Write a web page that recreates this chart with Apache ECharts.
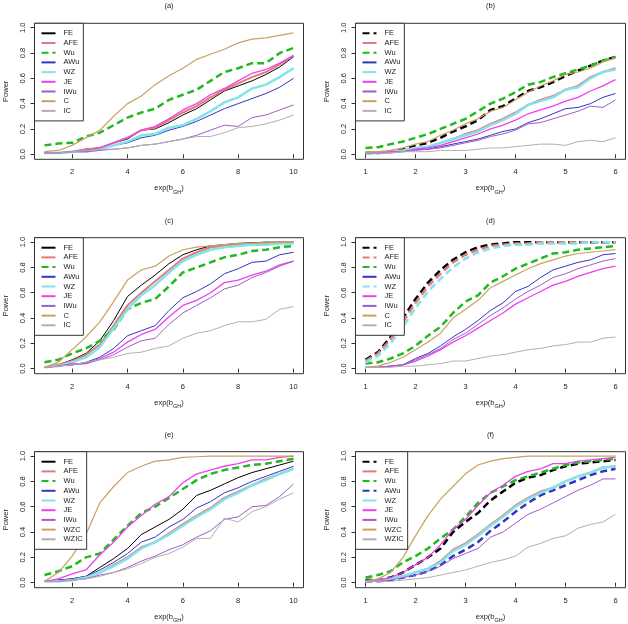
<!DOCTYPE html>
<html>
<head>
<meta charset="utf-8">
<title>Power curves</title>
<script src="https://cdn.jsdelivr.net/npm/echarts@6/dist/echarts.min.js"></script>
<style>
  html, body { margin: 0; padding: 0; background: #fff; }
  #chart { width: 628px; height: 624px; }
</style>
</head>
<body>
<div id="chart"></div>
<script>
// x values (exp(b_GH)) for the two columns of panels
const xLeft = [1, 1.5, 2, 2.5, 3, 3.5, 4, 4.5, 5, 5.5, 6, 6.5, 7, 7.5, 8, 8.5, 9, 9.5, 10];
const xRight = [1, 1.25, 1.5, 1.75, 2, 2.25, 2.5, 2.75, 3, 3.25, 3.5, 3.75, 4, 4.25, 4.5, 4.75, 5, 5.25, 5.5, 5.75, 6];

const xTicksLeft = [2, 4, 6, 8, 10];
const xTicksRight = [1, 2, 3, 4, 5, 6];
const yTicks = [0, 0.2, 0.4, 0.6, 0.8, 1.0];

const methodsAD = ['FE', 'AFE', 'Wu', 'AWu', 'WZ', 'JE', 'IWu', 'C', 'IC'];
const methodsEF = ['FE', 'AFE', 'Wu', 'AWu', 'WZ', 'JE', 'IWu', 'WZC', 'WZIC'];

// panel (a)
const aFE = [0.01, 0.01, 0.02, 0.04, 0.05, 0.09, 0.12, 0.19, 0.20, 0.25, 0.31, 0.36, 0.43, 0.50, 0.54, 0.58, 0.63, 0.69, 0.77];
const aAFE = [0.01, 0.01, 0.02, 0.04, 0.05, 0.09, 0.13, 0.19, 0.21, 0.27, 0.33, 0.38, 0.45, 0.51, 0.56, 0.61, 0.65, 0.71, 0.78];
const aWu = [0.07, 0.085, 0.09, 0.14, 0.17, 0.23, 0.29, 0.33, 0.36, 0.43, 0.47, 0.51, 0.58, 0.65, 0.68, 0.72, 0.72, 0.80, 0.84];
const aAWu = [0.01, 0.01, 0.02, 0.03, 0.04, 0.07, 0.09, 0.13, 0.15, 0.19, 0.22, 0.26, 0.31, 0.36, 0.40, 0.44, 0.48, 0.53, 0.60];
const aWZ = [0.01, 0.01, 0.02, 0.02, 0.04, 0.07, 0.10, 0.15, 0.16, 0.21, 0.23, 0.28, 0.34, 0.41, 0.45, 0.52, 0.55, 0.61, 0.68];
const aJE = [0.01, 0.01, 0.02, 0.03, 0.05, 0.09, 0.13, 0.19, 0.22, 0.28, 0.35, 0.40, 0.47, 0.52, 0.58, 0.64, 0.67, 0.72, 0.78];
const aIWu = [0.01, 0.01, 0.02, 0.02, 0.03, 0.04, 0.05, 0.07, 0.08, 0.10, 0.12, 0.15, 0.19, 0.23, 0.22, 0.29, 0.31, 0.35, 0.39];
const aC = [0.02, 0.03, 0.07, 0.13, 0.19, 0.30, 0.40, 0.46, 0.55, 0.62, 0.68, 0.75, 0.79, 0.83, 0.88, 0.91, 0.92, 0.94, 0.96];
const aIC = [0.01, 0.01, 0.02, 0.03, 0.04, 0.04, 0.05, 0.07, 0.08, 0.10, 0.12, 0.14, 0.14, 0.17, 0.21, 0.22, 0.24, 0.27, 0.31];

// panel (b)
const bFE = [0.01, 0.01, 0.02, 0.04, 0.07, 0.09, 0.13, 0.18, 0.22, 0.27, 0.35, 0.38, 0.44, 0.50, 0.53, 0.57, 0.62, 0.66, 0.70, 0.74, 0.77];
const bAFE = [0.01, 0.01, 0.02, 0.03, 0.05, 0.06, 0.09, 0.12, 0.16, 0.19, 0.24, 0.28, 0.33, 0.39, 0.43, 0.46, 0.51, 0.54, 0.61, 0.65, 0.68];
const bWu = [0.05, 0.055, 0.08, 0.10, 0.13, 0.16, 0.20, 0.24, 0.28, 0.34, 0.40, 0.44, 0.49, 0.55, 0.57, 0.61, 0.64, 0.67, 0.70, 0.74, 0.77];
const bAWu = [0.01, 0.01, 0.02, 0.03, 0.04, 0.04, 0.06, 0.08, 0.10, 0.12, 0.15, 0.18, 0.20, 0.25, 0.28, 0.32, 0.36, 0.37, 0.40, 0.45, 0.48];
const bWZ = [0.01, 0.01, 0.02, 0.03, 0.05, 0.06, 0.09, 0.12, 0.15, 0.18, 0.23, 0.27, 0.32, 0.39, 0.42, 0.45, 0.51, 0.53, 0.60, 0.65, 0.67];
const bJE = [0.01, 0.01, 0.02, 0.02, 0.04, 0.05, 0.07, 0.10, 0.13, 0.16, 0.20, 0.23, 0.27, 0.32, 0.35, 0.38, 0.42, 0.45, 0.50, 0.54, 0.59];
const bIWu = [0.01, 0.01, 0.01, 0.02, 0.03, 0.04, 0.05, 0.07, 0.09, 0.11, 0.14, 0.16, 0.19, 0.24, 0.25, 0.28, 0.31, 0.34, 0.38, 0.37, 0.43];
const bC = [0.02, 0.02, 0.03, 0.05, 0.08, 0.10, 0.15, 0.19, 0.24, 0.28, 0.34, 0.37, 0.43, 0.49, 0.54, 0.58, 0.63, 0.65, 0.68, 0.73, 0.76];
const bIC = [0.01, 0.01, 0.01, 0.02, 0.02, 0.02, 0.03, 0.03, 0.03, 0.04, 0.05, 0.05, 0.06, 0.07, 0.08, 0.08, 0.07, 0.10, 0.11, 0.10, 0.13];

// panel (c)
const cFE = [0.01, 0.03, 0.07, 0.12, 0.22, 0.38, 0.57, 0.66, 0.74, 0.83, 0.90, 0.94, 0.97, 0.98, 0.99, 0.995, 1.0, 1.0, 1.0];
const cAFE = [0.01, 0.03, 0.06, 0.11, 0.19, 0.34, 0.50, 0.60, 0.69, 0.78, 0.87, 0.92, 0.96, 0.97, 0.98, 0.99, 0.99, 1.0, 1.0];
const cWu = [0.05, 0.07, 0.12, 0.16, 0.22, 0.31, 0.47, 0.52, 0.55, 0.65, 0.76, 0.80, 0.84, 0.88, 0.90, 0.93, 0.94, 0.96, 0.97];
const cAWu = [0.01, 0.02, 0.03, 0.05, 0.09, 0.16, 0.26, 0.30, 0.34, 0.46, 0.56, 0.61, 0.67, 0.75, 0.79, 0.84, 0.85, 0.90, 0.92];
const cWZ = [0.01, 0.02, 0.05, 0.09, 0.17, 0.32, 0.47, 0.58, 0.66, 0.76, 0.85, 0.90, 0.94, 0.96, 0.97, 0.98, 0.98, 0.99, 0.99];
const cJE = [0.01, 0.02, 0.04, 0.04, 0.08, 0.13, 0.21, 0.27, 0.31, 0.41, 0.50, 0.54, 0.60, 0.68, 0.70, 0.74, 0.77, 0.82, 0.85];
const cIWu = [0.01, 0.02, 0.03, 0.04, 0.07, 0.11, 0.17, 0.22, 0.24, 0.35, 0.44, 0.50, 0.56, 0.63, 0.66, 0.72, 0.76, 0.81, 0.85];
const cC = [0.01, 0.05, 0.15, 0.25, 0.37, 0.53, 0.70, 0.78, 0.81, 0.89, 0.94, 0.96, 0.97, 0.98, 0.99, 0.99, 1.0, 1.0, 1.0];
const cIC = [0.01, 0.02, 0.03, 0.05, 0.07, 0.09, 0.12, 0.13, 0.16, 0.18, 0.24, 0.28, 0.30, 0.34, 0.37, 0.37, 0.39, 0.47, 0.49];

// panel (d)
const dFE = [0.07, 0.13, 0.25, 0.40, 0.55, 0.68, 0.78, 0.86, 0.92, 0.96, 0.98, 0.99, 1.0, 1.0, 1.0, 1.0, 1.0, 1.0, 1.0, 1.0, 1.0];
const dAFE = [0.06, 0.12, 0.23, 0.37, 0.52, 0.65, 0.75, 0.84, 0.90, 0.94, 0.97, 0.98, 0.99, 0.99, 1.0, 1.0, 1.0, 1.0, 1.0, 1.0, 1.0];
const dWu = [0.04, 0.05, 0.08, 0.12, 0.18, 0.26, 0.33, 0.44, 0.53, 0.58, 0.68, 0.73, 0.79, 0.83, 0.87, 0.91, 0.92, 0.94, 0.95, 0.96, 0.97];
const dAWu = [0.01, 0.01, 0.02, 0.03, 0.08, 0.12, 0.18, 0.25, 0.31, 0.38, 0.46, 0.52, 0.61, 0.65, 0.72, 0.78, 0.81, 0.84, 0.86, 0.90, 0.91];
const dWZ = [0.05, 0.10, 0.20, 0.33, 0.48, 0.61, 0.71, 0.80, 0.87, 0.92, 0.95, 0.97, 0.98, 0.98, 0.99, 0.99, 0.99, 0.99, 1.0, 1.0, 1.0];
const dJE = [0.01, 0.01, 0.02, 0.03, 0.06, 0.10, 0.15, 0.21, 0.26, 0.32, 0.38, 0.44, 0.51, 0.56, 0.61, 0.66, 0.69, 0.73, 0.76, 0.79, 0.81];
const dIWu = [0.01, 0.01, 0.02, 0.03, 0.07, 0.11, 0.16, 0.23, 0.28, 0.35, 0.42, 0.48, 0.55, 0.61, 0.66, 0.72, 0.75, 0.79, 0.82, 0.85, 0.87];
const dC = [0.01, 0.02, 0.05, 0.09, 0.15, 0.21, 0.28, 0.40, 0.47, 0.54, 0.64, 0.69, 0.74, 0.79, 0.83, 0.86, 0.89, 0.91, 0.92, 0.93, 0.94];
const dIC = [0.01, 0.01, 0.01, 0.02, 0.02, 0.03, 0.04, 0.06, 0.06, 0.08, 0.10, 0.11, 0.13, 0.15, 0.16, 0.18, 0.19, 0.21, 0.21, 0.24, 0.25];

// panel (e)
const eFE = [0.01, 0.02, 0.03, 0.05, 0.12, 0.19, 0.27, 0.38, 0.44, 0.50, 0.58, 0.69, 0.73, 0.78, 0.83, 0.87, 0.90, 0.93, 0.96];
const eAFE = [0.01, 0.01, 0.02, 0.04, 0.08, 0.14, 0.20, 0.28, 0.32, 0.39, 0.46, 0.53, 0.59, 0.67, 0.72, 0.77, 0.82, 0.86, 0.90];
const eWu = [0.06, 0.09, 0.13, 0.20, 0.23, 0.34, 0.45, 0.55, 0.60, 0.67, 0.74, 0.81, 0.86, 0.89, 0.91, 0.93, 0.94, 0.96, 0.98];
const eAWu = [0.01, 0.02, 0.03, 0.05, 0.10, 0.16, 0.23, 0.32, 0.36, 0.44, 0.50, 0.59, 0.64, 0.71, 0.75, 0.80, 0.84, 0.88, 0.92];
const eWZ = [0.01, 0.01, 0.02, 0.04, 0.08, 0.13, 0.19, 0.27, 0.32, 0.38, 0.45, 0.52, 0.58, 0.66, 0.71, 0.77, 0.81, 0.86, 0.90];
const eJE = [0.01, 0.03, 0.07, 0.10, 0.22, 0.32, 0.44, 0.53, 0.62, 0.68, 0.79, 0.86, 0.89, 0.92, 0.94, 0.97, 0.97, 0.99, 1.0];
const eIWu = [0.01, 0.01, 0.02, 0.03, 0.06, 0.08, 0.12, 0.17, 0.21, 0.26, 0.30, 0.36, 0.41, 0.50, 0.52, 0.60, 0.61, 0.68, 0.78];
const eWZC = [0.01, 0.08, 0.21, 0.38, 0.63, 0.76, 0.87, 0.92, 0.96, 0.97, 0.99, 0.995, 1.0, 1.0, 1.0, 1.0, 1.0, 1.0, 1.0];
const eWZIC = [0.01, 0.01, 0.02, 0.03, 0.05, 0.08, 0.11, 0.15, 0.20, 0.23, 0.28, 0.35, 0.35, 0.51, 0.48, 0.56, 0.60, 0.66, 0.71];

// panel (f)
const fFE = [0.02, 0.02, 0.04, 0.08, 0.14, 0.20, 0.27, 0.40, 0.48, 0.55, 0.65, 0.72, 0.79, 0.83, 0.85, 0.89, 0.92, 0.94, 0.95, 0.96, 0.97];
const fAFE = [0.01, 0.02, 0.03, 0.05, 0.08, 0.11, 0.17, 0.26, 0.31, 0.38, 0.46, 0.53, 0.61, 0.67, 0.72, 0.75, 0.80, 0.84, 0.87, 0.91, 0.92];
const fWu = [0.04, 0.06, 0.09, 0.16, 0.21, 0.27, 0.35, 0.42, 0.52, 0.63, 0.71, 0.76, 0.81, 0.84, 0.87, 0.90, 0.93, 0.95, 0.96, 0.97, 0.98];
const fAWu = [0.01, 0.01, 0.02, 0.04, 0.06, 0.09, 0.14, 0.21, 0.26, 0.32, 0.41, 0.48, 0.56, 0.63, 0.69, 0.73, 0.77, 0.81, 0.85, 0.88, 0.90];
const fWZ = [0.01, 0.02, 0.03, 0.05, 0.08, 0.11, 0.16, 0.25, 0.30, 0.37, 0.45, 0.52, 0.60, 0.66, 0.71, 0.75, 0.80, 0.84, 0.87, 0.91, 0.92];
const fJE = [0.02, 0.02, 0.04, 0.08, 0.14, 0.20, 0.30, 0.42, 0.50, 0.61, 0.71, 0.77, 0.84, 0.88, 0.90, 0.94, 0.94, 0.96, 0.97, 0.98, 0.99];
const fIWu = [0.01, 0.01, 0.02, 0.04, 0.06, 0.09, 0.13, 0.19, 0.23, 0.27, 0.36, 0.40, 0.47, 0.54, 0.58, 0.63, 0.68, 0.73, 0.77, 0.82, 0.82];
const fWZC = [0.01, 0.03, 0.08, 0.20, 0.37, 0.53, 0.66, 0.76, 0.86, 0.93, 0.96, 0.98, 0.99, 1.0, 1.0, 1.0, 1.0, 1.0, 1.0, 1.0, 1.0];
const fWZIC = [0.01, 0.01, 0.01, 0.02, 0.03, 0.04, 0.06, 0.08, 0.10, 0.13, 0.16, 0.18, 0.21, 0.28, 0.31, 0.35, 0.37, 0.43, 0.46, 0.48, 0.54];

const panels = [
  { key: 'a', col: 0, row: 0, x: xLeft, names: methodsAD, dashed: ['Wu'],
    values: [aFE, aAFE, aWu, aAWu, aWZ, aJE, aIWu, aC, aIC] },
  { key: 'b', col: 1, row: 0, x: xRight, names: methodsAD, dashed: ['FE', 'Wu'],
    values: [bFE, bAFE, bWu, bAWu, bWZ, bJE, bIWu, bC, bIC] },
  { key: 'c', col: 0, row: 1, x: xLeft, names: methodsAD, dashed: ['Wu'],
    values: [cFE, cAFE, cWu, cAWu, cWZ, cJE, cIWu, cC, cIC] },
  { key: 'd', col: 1, row: 1, x: xRight, names: methodsAD, dashed: ['FE', 'AFE', 'Wu', 'WZ'],
    values: [dFE, dAFE, dWu, dAWu, dWZ, dJE, dIWu, dC, dIC] },
  { key: 'e', col: 0, row: 2, x: xLeft, names: methodsEF, dashed: ['Wu'],
    values: [eFE, eAFE, eWu, eAWu, eWZ, eJE, eIWu, eWZC, eWZIC] },
  { key: 'f', col: 1, row: 2, x: xRight, names: methodsEF, dashed: ['FE', 'Wu', 'AWu'],
    values: [fFE, fAFE, fWu, fAWu, fWZ, fJE, fIWu, fWZC, fWZIC] },
];

// one colour / width per method slot
const lineColors = ['#000000', '#e47a7a', '#22b822', '#3434c4', '#80e4ea', '#ee40ee', '#a35cc9', '#c8a262', '#b0b0b0'];
const solidWidths = [1, 2, 1, 1, 2.5, 1.3, 1, 1.2, 1];

// panel boxes (px)
const colLeft = [34.5, 355.5];
const colWidth = [269, 270];
const rowTop = [23.3, 237.7, 451.7];
const boxHeight = 136;

const font = "'Liberation Sans', Arial, sans-serif";
const textColor = '#222';

const chart = echarts.init(document.getElementById('chart'));

const grids = [];
const xAxes = [];
const yAxes = [];
const titles = [];
const legends = [];
const series = [];

panels.forEach((p, i) => {
  const left = colLeft[p.col];
  const width = colWidth[p.col];
  const top = rowTop[p.row];
  const isLeft = p.col === 0;
  const xTicks = isLeft ? xTicksLeft : xTicksRight;

  grids.push({
    left, top, width, height: boxHeight,
    show: true, borderColor: '#333', borderWidth: 1,
    backgroundColor: 'transparent',
    containLabel: false, outerBoundsMode: 'none',
  });

  xAxes.push({
    type: 'value', gridIndex: i,
    min: isLeft ? 0.64 : 0.8, max: isLeft ? 10.36 : 6.2,
    name: '{m|exp(b}{s|GH}{m|)}', nameLocation: 'middle', nameGap: 25,
    nameTextStyle: {
      rich: {
        m: { fontSize: 7.5, fontFamily: font, color: textColor, verticalAlign: 'top' },
        s: { fontSize: 5.5, fontFamily: font, color: textColor, verticalAlign: 'bottom', padding: [5, 0, 0, 0] },
      },
    },
    axisLine: { show: false },
    axisTick: { show: true, length: 4, lineStyle: { color: '#333' }, customValues: xTicks },
    axisLabel: { customValues: xTicks, margin: 9, fontSize: 7.5, fontFamily: font, color: textColor },
    splitLine: { show: false },
  });

  yAxes.push({
    type: 'value', gridIndex: i, min: -0.04, max: 1.035,
    name: 'Power', nameLocation: 'middle', nameRotate: 90, nameGap: 25,
    nameTextStyle: { fontSize: 7.5, fontFamily: font, color: textColor },
    axisLine: { show: false },
    axisTick: { show: true, length: 4, lineStyle: { color: '#333' }, customValues: yTicks },
    axisLabel: {
      customValues: yTicks, rotate: 90, margin: 8,
      fontSize: 7.5, fontFamily: font, color: textColor,
      formatter: v => v.toFixed(1),
    },
    splitLine: { show: false },
  });

  titles.push({
    text: '(' + p.key + ')',
    left: left + width / 2, top: top - 21, textAlign: 'center', padding: 0,
    textStyle: { fontSize: 7.5, fontWeight: 'normal', fontFamily: font, color: textColor },
  });

  legends.push({
    left, top, orient: 'vertical',
    data: p.names.map(n => p.key + ':' + n),
    formatter: name => name.slice(2),
    selectedMode: false,
    backgroundColor: '#fff', borderColor: '#333', borderWidth: 1,
    padding: [6, 4, 6, 6],
    itemWidth: 14, itemHeight: 7.5, itemGap: 1.7,
    itemStyle: { opacity: 0 },
    textStyle: { fontSize: 7.5, fontFamily: font, color: textColor, padding: [0, 0, 0, 3] },
    z: 5,
  });

  p.names.forEach((name, k) => {
    const dashed = p.dashed.includes(name);
    series.push({
      name: p.key + ':' + name,
      type: 'line',
      xAxisIndex: i, yAxisIndex: i,
      data: p.x.map((x, j) => [x, p.values[k][j]]),
      symbol: 'none',
      silent: true,
      itemStyle: { color: lineColors[k] },
      lineStyle: {
        color: lineColors[k],
        width: dashed ? 2.5 : solidWidths[k],
        type: dashed ? [7, 4] : 'solid',
      },
    });
  });
});

chart.setOption({
  animation: false,
  backgroundColor: '#fff',
  title: titles,
  legend: legends,
  grid: grids,
  xAxis: xAxes,
  yAxis: yAxes,
  series,
});
</script>
</body>
</html>
